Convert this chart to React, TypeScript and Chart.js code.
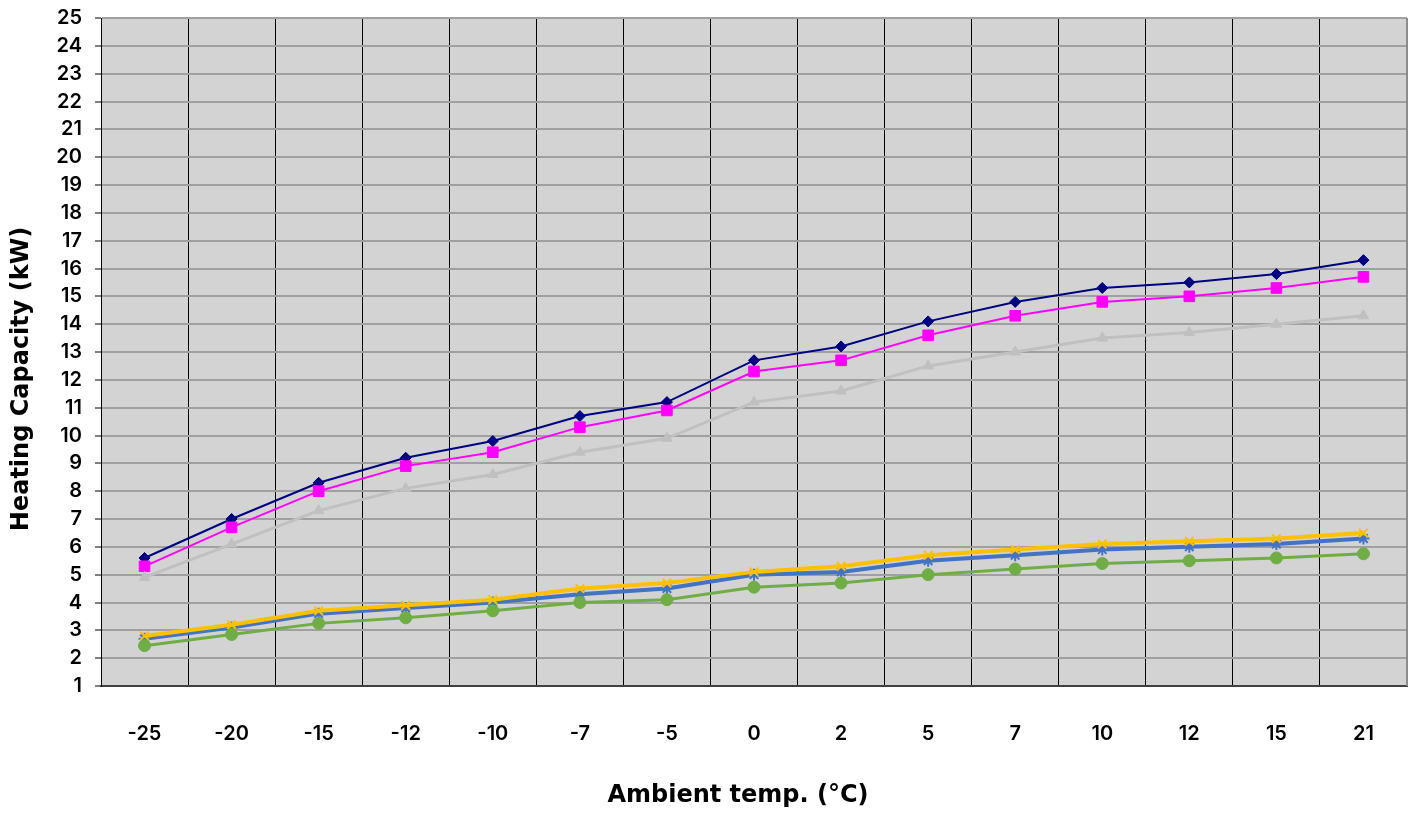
import React, { useEffect, useRef } from "react";
import { Chart, registerables } from "chart.js";

Chart.register(...registerables);

const categories = ["-25", "-20", "-15", "-12", "-10", "-7", "-5", "0", "2", "5", "7", "10", "12", "15", "21"];
const yTicks = [1, 2, 3, 4, 5, 6, 7, 8, 9, 10, 11, 12, 13, 14, 15, 16, 17, 18, 19, 20, 21, 22, 23, 24, 25];
const xTitle = "Ambient temp. (°C)";
const yTitle = "Heating Capacity (kW)";

const navySeries = [5.6, 7.0, 8.3, 9.2, 9.8, 10.7, 11.2, 12.7, 13.2, 14.1, 14.8, 15.3, 15.5, 15.8, 16.3];
const magentaSeries = [5.3, 6.7, 8.0, 8.9, 9.4, 10.3, 10.9, 12.3, 12.7, 13.6, 14.3, 14.8, 15.0, 15.3, 15.7];
const graySeries = [4.9, 6.1, 7.3, 8.1, 8.6, 9.4, 9.9, 11.2, 11.6, 12.5, 13.0, 13.5, 13.7, 14.0, 14.3];
const yellowSeries = [2.8, 3.2, 3.7, 3.9, 4.1, 4.5, 4.7, 5.1, 5.3, 5.7, 5.9, 6.1, 6.2, 6.3, 6.5];
const blueSeries = [2.7, 3.1, 3.6, 3.8, 4.0, 4.3, 4.5, 5.0, 5.1, 5.5, 5.7, 5.9, 6.0, 6.1, 6.3];
const greenSeries = [2.45, 2.85, 3.25, 3.45, 3.7, 4.0, 4.1, 4.55, 4.7, 5.0, 5.2, 5.4, 5.5, 5.6, 5.75];

const TICK_FONT = "Inter, 'Open Sans', sans-serif";
const TITLE_FONT = "bold 24px 'DejaVu Sans', sans-serif";

const bgPlugin = {
  id: "plotBg",
  beforeDraw(chart: any) {
    const { ctx, chartArea } = chart;
    if (!chartArea) return;
    ctx.save();
    ctx.fillStyle = "#d3d3d3";
    ctx.fillRect(chartArea.left, chartArea.top, chartArea.right - chartArea.left, chartArea.bottom - chartArea.top);
    ctx.restore();
  },
  afterDraw(chart: any) {
    const { ctx, chartArea } = chart;
    ctx.save();
    ctx.strokeStyle = "#8c8c8c";
    ctx.lineWidth = 2;
    ctx.beginPath();
    ctx.moveTo(chartArea.right, chartArea.top);
    ctx.lineTo(chartArea.right, chartArea.bottom);
    ctx.stroke();
    // axis titles
    ctx.fillStyle = "#000";
    ctx.font = TITLE_FONT;
    ctx.textAlign = "center";
    ctx.textBaseline = "middle";
    ctx.fillText(xTitle, 738, 796);
    ctx.translate(22, 379);
    ctx.rotate(-Math.PI / 2);
    ctx.fillText(yTitle, 0, 0);
    ctx.restore();
  },
};

export default function App() {
  const ref = useRef<HTMLCanvasElement | null>(null);
  useEffect(() => {
    if (!ref.current) return;
    const mk = (label: string, data: number[], color: string, width: number, style: any, radius: number) => ({
      label,
      data,
      borderColor: color,
      backgroundColor: color,
      borderWidth: width,
      pointStyle: style,
      pointRadius: radius,
      pointBorderColor: color,
      pointBackgroundColor: color,
      pointBorderWidth: style === "crossRot" || style === "star" ? 2 : 1,
      tension: 0,
    });
    const chart = new Chart(ref.current, {
      type: "line",
      data: {
        labels: categories,
        datasets: [
          mk("Gray", graySeries, "#c0c0c0", 3, "triangle", 6),
          mk("Magenta", magentaSeries, "#ff00ff", 2, "rect", 7.5),
          mk("Navy", navySeries, "#000080", 2, "rectRot", 5.5),
          mk("Green", greenSeries, "#70ad47", 3, "circle", 6),
          mk("Yellow", yellowSeries, "#ffc000", 4, "crossRot", 6),
          mk("Blue", blueSeries, "#4472c4", 4, "star", 6),
        ],
      },
      plugins: [bgPlugin],
      options: {
        responsive: false,
        animation: false,
        layout: { padding: { top: 18, right: 9, left: 0, bottom: 0 } },
        plugins: { legend: { display: false }, tooltip: { enabled: false } },
        scales: {
          x: {
            offset: true,
            grid: { offset: true, color: "#000", lineWidth: 1, drawTicks: false },
            border: { color: "#404040", width: 2 },
            ticks: { color: "#000", font: { family: TICK_FONT, size: 20, weight: 600 }, padding: 36 },
            afterFit(scale: any) {
              scale.height = 128;
              scale.paddingLeft = 0;
              scale.paddingRight = 0;
            },
          },
          y: {
            min: 1,
            max: 25,
            afterBuildTicks(scale: any) {
              scale.ticks = yTicks.map((v) => ({ value: v }));
            },
            grid: { color: "#a0a0a0", lineWidth: 2, tickColor: "#000", tickLength: 6, tickWidth: 1 },
            border: { color: "#000", width: 1 },
            ticks: { color: "#000", font: { family: TICK_FONT, size: 20, weight: 600 }, padding: 13 },
            afterFit(scale: any) {
              scale.width = 101;
              scale.paddingTop = 0;
              scale.paddingBottom = 0;
            },
          },
        },
      },
    });
    return () => chart.destroy();
  }, []);
  return (
    <div style={{ position: "fixed", left: 0, top: 0, width: 1416, height: 814, background: "#fff" }}>
      <canvas ref={ref} width={1416} height={814} />
    </div>
  );
}
